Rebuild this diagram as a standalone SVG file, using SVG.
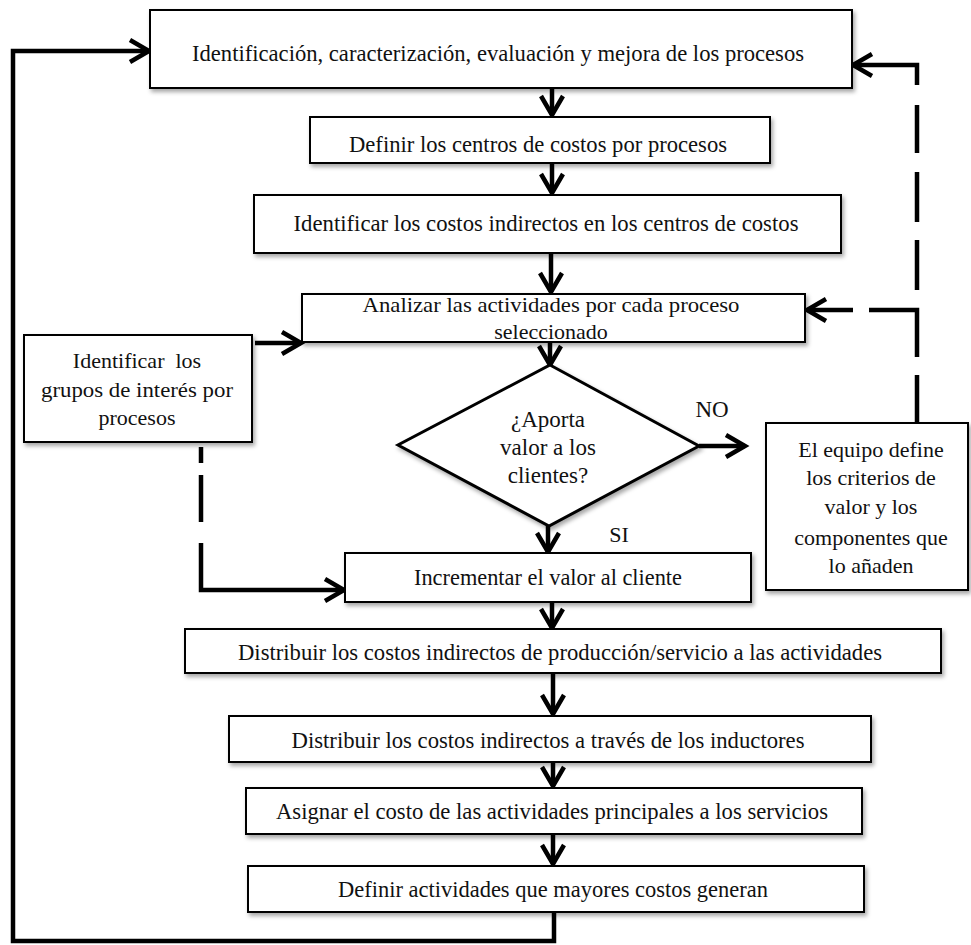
<svg xmlns="http://www.w3.org/2000/svg" width="971" height="945" viewBox="0 0 971 945">
<defs>
<filter id="sh" x="-5%" y="-20%" width="110%" height="150%">
<feDropShadow dx="2" dy="3" stdDeviation="2" flood-color="#000" flood-opacity="0.35"/>
</filter>
<marker id="ah" markerUnits="userSpaceOnUse" markerWidth="32" markerHeight="32" viewBox="-26 -16 32 32" refX="0" refY="0" orient="auto">
<path d="M-19,-11 L0,0 L-19,11" fill="none" stroke="#000" stroke-width="4.5"/>
</marker>
</defs>
<style>
.box{fill:#fff;stroke:#000;stroke-width:2;filter:url(#sh)}
.dia{fill:#fff;stroke:#000;stroke-width:3;filter:url(#sh)}
.t{font-family:"Liberation Serif","Times New Roman",serif;fill:#111;text-anchor:middle}
.c{fill:none;stroke:#000;stroke-width:4.5}
.a{marker-end:url(#ah)}
</style>
<rect width="971" height="945" fill="#fff"/>
<g id="connectors">
<line class="c a" x1="552" y1="88" x2="552" y2="115"/>
<line class="c a" x1="552" y1="164" x2="552" y2="193"/>
<line class="c a" x1="551" y1="253" x2="551" y2="292"/>
<line class="c a" x1="550" y1="342" x2="550" y2="365"/>
<line class="c a" x1="548" y1="526" x2="548" y2="552"/>
<line class="c a" x1="552" y1="602" x2="552" y2="628"/>
<line class="c a" x1="553" y1="673" x2="553" y2="714"/>
<line class="c a" x1="553" y1="763" x2="553" y2="786"/>
<line class="c a" x1="553" y1="834" x2="553" y2="864"/>
<path class="c a" d="M554,912 V941 H13 V51 H149"/>
<line class="c a" x1="255" y1="343" x2="301" y2="343"/>
<line class="c a" x1="699" y1="446" x2="745" y2="446"/>
<path class="c" d="M201,447 V463 M201,475 V522"/>
<path class="c a" d="M201,543 V590 H344"/>
<path class="c" d="M917,423 V375 M917,357 V310 H869 M917,290 V240 M917,222 V172 M917,153 V105"/>
<path class="c a" d="M853,310 H807"/>
<path class="c a" d="M917,85 V65 H853"/>
</g>
<g id="n1"><rect class="box" x="150" y="10" width="702" height="78"/>
<text class="t" x="498" y="61" font-size="24" textLength="612" lengthAdjust="spacingAndGlyphs">Identificación, caracterización, evaluación y mejora de los procesos</text></g>
<g id="n2"><rect class="box" x="310" y="117" width="460" height="46"/>
<text class="t" x="538" y="152" font-size="23" textLength="378" lengthAdjust="spacingAndGlyphs">Definir los centros de costos por procesos</text></g>
<g id="n3"><rect class="box" x="254" y="195" width="587" height="58"/>
<text class="t" x="546" y="231" font-size="23" textLength="505" lengthAdjust="spacingAndGlyphs">Identificar los costos indirectos en los centros de costos</text></g>
<g id="n4"><rect class="box" x="302" y="294" width="503" height="48"/>
<text class="t" x="551" y="312" font-size="22" textLength="377" lengthAdjust="spacingAndGlyphs">Analizar las actividades por cada proceso</text>
<text class="t" x="551" y="339" font-size="22">seleccionado</text></g>
<g id="n5"><rect class="box" x="24" y="335" width="228" height="107"/>
<text class="t" x="137" y="368" font-size="22" xml:space="preserve">Identificar  los</text>
<text class="t" x="137" y="397" font-size="22" textLength="192" lengthAdjust="spacingAndGlyphs">grupos de interés por</text>
<text class="t" x="137" y="425" font-size="22">procesos</text></g>
<g id="n6"><polygon class="dia" points="550,365 699,446 549,526 398,445"/>
<text class="t" x="548" y="427" font-size="23">¿Aporta</text>
<text class="t" x="548" y="455" font-size="23">valor a los</text>
<text class="t" x="548" y="483" font-size="23">clientes?</text></g>
<g id="n7"><rect class="box" x="766" y="423" width="202" height="167"/>
<text class="t" x="871" y="457" font-size="22">El equipo define</text>
<text class="t" x="871" y="485" font-size="22">los criterios de</text>
<text class="t" x="871" y="514" font-size="22">valor y los</text>
<text class="t" x="871" y="545" font-size="22">componentes que</text>
<text class="t" x="871" y="573" font-size="22">lo añaden</text></g>
<g id="lbl"><text class="t" x="712" y="417" font-size="23">NO</text>
<text class="t" x="619" y="542" font-size="22">SI</text></g>
<g id="n8"><rect class="box" x="345" y="553" width="406" height="49"/>
<text class="t" x="548" y="585" font-size="23" textLength="268" lengthAdjust="spacingAndGlyphs">Incrementar el valor al cliente</text></g>
<g id="n9"><rect class="box" x="185" y="629" width="756" height="44"/>
<text class="t" x="560" y="660" font-size="24" textLength="644" lengthAdjust="spacingAndGlyphs">Distribuir los costos indirectos de producción/servicio a las actividades</text></g>
<g id="n10"><rect class="box" x="229" y="716" width="642" height="46"/>
<text class="t" x="548" y="748" font-size="24" textLength="513" lengthAdjust="spacingAndGlyphs">Distribuir los costos indirectos a través de los inductores</text></g>
<g id="n11"><rect class="box" x="246" y="788" width="616" height="46"/>
<text class="t" x="552" y="819" font-size="24" textLength="552" lengthAdjust="spacingAndGlyphs">Asignar el costo de las actividades principales a los servicios</text></g>
<g id="n12"><rect class="box" x="248" y="866" width="616" height="46"/>
<text class="t" x="553" y="897" font-size="24" textLength="430" lengthAdjust="spacingAndGlyphs">Definir actividades que mayores costos generan</text></g>
</svg>
